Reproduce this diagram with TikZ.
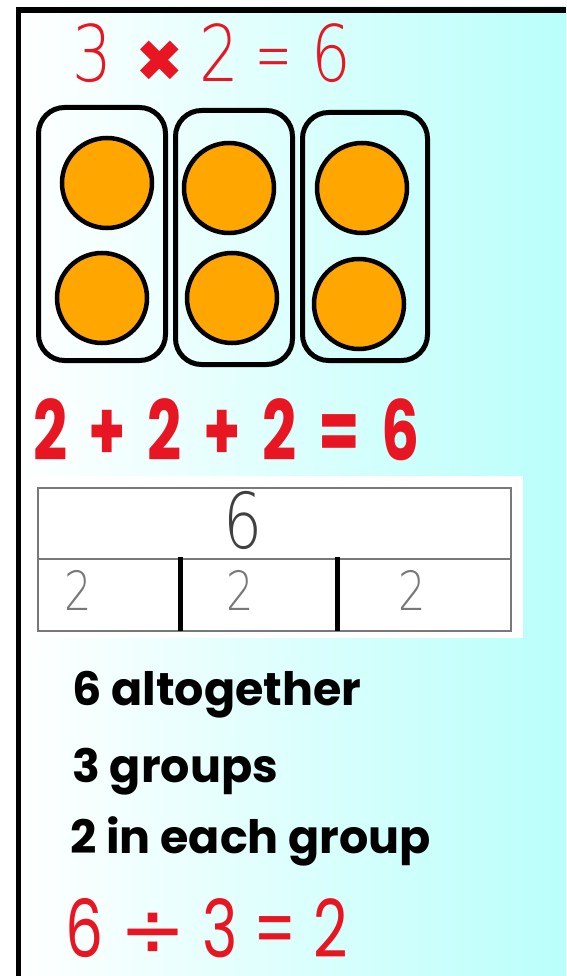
\documentclass[tikz,border=0pt]{standalone}
\usepackage{fontspec}
\setmainfont{Poppins}
\newfontfamily\eqfont{Poppins}[FakeStretch=0.72,WordSpace=1.7]
\newfontfamily\plainfont{Poppins}[FakeStretch=0.75]
\IfFontExistsTF{DejaVu Sans ExtraLight}
    {\newfontfamily\thinfont{DejaVu Sans ExtraLight}[FakeStretch=0.8]}
    {\IfFontExistsTF{Lato Light}
        {\newfontfamily\thinfont{Lato Light}[FakeStretch=0.85]}
        {\newfontfamily\thinfont{Poppins}[FakeStretch=0.72]}}
\newfontfamily\symfont{DejaVu Sans}
\definecolor{skycyan}{RGB}{176,255,250}
\definecolor{eqred}{RGB}{232,22,34}
\definecolor{dotorange}{RGB}{255,166,0}
\definecolor{bargray}{RGB}{120,120,120}
\pgfdeclarehorizontalshading{skyfade}{100bp}{color(0bp)=(white); color(25bp)=(white); color(82bp)=(skycyan); color(100bp)=(skycyan)}

\begin{document}
\begin{tikzpicture}[x=1pt,y=-1pt,
    grp/.style={draw,line width=5pt,rounded corners=26pt},
    dot/.style={circle,draw,line width=4.5pt,fill=dotorange,minimum size=90pt,inner sep=0pt},
    eqtext/.style={anchor=base west,inner sep=0pt,text=eqred},
    saytext/.style={anchor=base west,inner sep=0pt,font=\fontsize{46}{50}\selectfont\bfseries},
    barnum/.style={anchor=base,inner sep=0pt,text=bargray}]
    \useasboundingbox (0,0) rectangle (566,976);
    \fill[white] (0,0) rectangle (566,976);
    \shade[shading=skyfade] (16,7) rectangle (566,976);
    % frame
    \fill[black] (16,7) rectangle (566,13);
    \fill[black] (16,7) rectangle (21,976);

    \node[eqtext,font=\fontsize{78}{80}\thinfont] (times) at (72,82)
        {3\hspace{0.3em}{\fontsize{58}{60}\symfont\bfseries ✖}\hspace{0.2em}2\hspace{-4pt} \scalebox{0.7}[1]{=} 6};

    % three groups of two
    \draw[grp] (38.5,107.5) rectangle (165.5,360.5);
    \draw[grp] (175.5,110.5) rectangle (292.5,364.5);
    \draw[grp] (302.5,112.5) rectangle (427.5,360.5);
    \foreach \n/\x/\y in {c1a/107/183, c1b/102/298, c2a/229/188, c2b/232/298, c3a/362/188, c3b/359/304}
        \node[dot] (\n) at (\x,\y) {};

    \node[eqtext,font=\fontsize{83}{86}\eqfont\bfseries] (adds) at (33,460) {2 + 2 + 2 = 6};

    % bar model
    \fill[white] (23,476) rectangle (523,638);
    \draw[bargray,line width=1.5pt] (38,488) rectangle (511,631);
    \draw[bargray,line width=1.5pt] (38,559) -- (511,559);
    \draw[line width=5pt] (180,557) -- (180,631);
    \draw[line width=5pt] (337,557) -- (337,631);
    \node[barnum,text=black!75,font=\fontsize{77}{80}\thinfont] (total) at (243,548) {6};
    \foreach \n/\x in {p1/78, p2/240, p3/412}
        \node[barnum,font=\fontsize{54}{56}\thinfont] (\n) at (\x,610) {2};

    \node[saytext] (all) at (72,705) {6 altogether};
    \node[saytext] (grps) at (72,782) {3 groups};
    \node[saytext] (each) at (70,853) {2 in each group};

    \node[eqtext,font=\fontsize{80}{84}\plainfont] (share) at (65,957) {6 {\symfont ÷} 3 = 2};
\end{tikzpicture}
\end{document}
